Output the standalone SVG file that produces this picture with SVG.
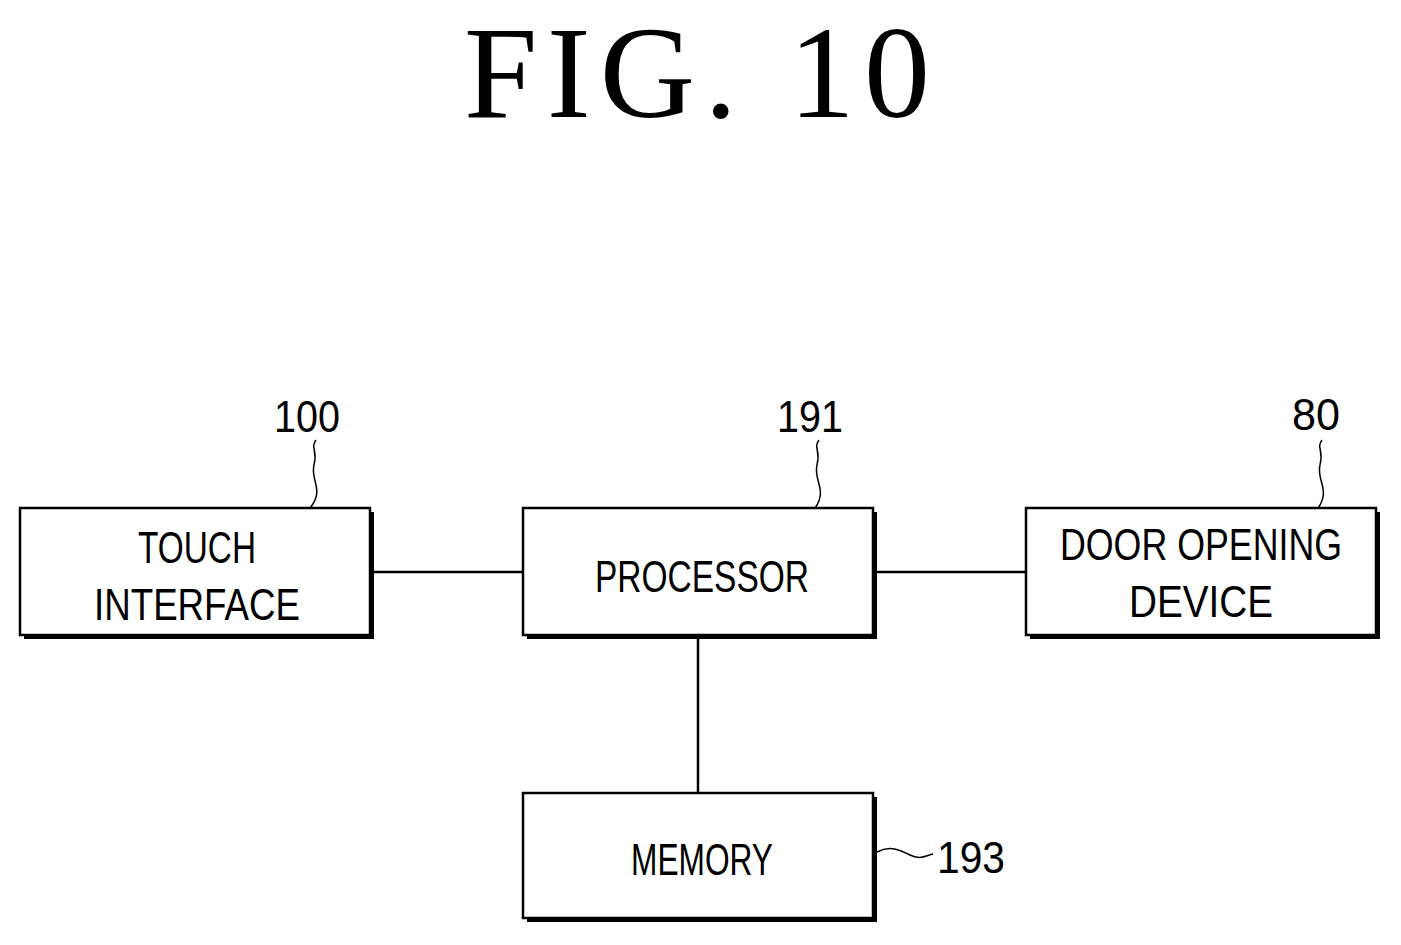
<svg xmlns="http://www.w3.org/2000/svg" width="1401" height="945" viewBox="0 0 1401 945">
<style>
.box{fill:#fff;stroke:#000;stroke-width:2.5}
.sh{fill:#000}
.t{font-family:"Liberation Sans",Arial,sans-serif;font-size:44px;fill:#000;text-anchor:middle}
.n{font-family:"Liberation Sans",Arial,sans-serif;font-size:44px;fill:#000;text-anchor:middle}
.l{fill:none;stroke:#000;stroke-width:2.5}
.w{fill:none;stroke:#000;stroke-width:1.5}
</style>
<rect width="1401" height="945" fill="#fff"/>
<text x="697" y="117" font-family="Liberation Serif,serif" font-size="132" text-anchor="middle" textLength="466" lengthAdjust="spacing">FIG.  10</text>
<g id="connectors">
<line class="l" x1="372" y1="572" x2="523" y2="572"/>
<line class="l" x1="875" y1="572" x2="1026" y2="572"/>
<line class="l" x1="698" y1="638" x2="698" y2="793"/>
</g>
<g id="touch">
<rect class="sh" x="24" y="512" width="350" height="127"/>
<rect class="box" x="20" y="508" width="350" height="127"/>
<text class="t" x="197" y="563" textLength="118" lengthAdjust="spacingAndGlyphs">TOUCH</text>
<text class="t" x="197" y="620" textLength="206" lengthAdjust="spacingAndGlyphs">INTERFACE</text>
<path class="w" d="M310 508 C325 490,310 480,314 465 C318 450,310 448,316 440"/>
<text class="n" x="307" y="432" textLength="66" lengthAdjust="spacingAndGlyphs">100</text>
</g>
<g id="processor">
<rect class="sh" x="527" y="512" width="350" height="127"/>
<rect class="box" x="523" y="508" width="350" height="127"/>
<text class="t" x="702" y="592" textLength="214" lengthAdjust="spacingAndGlyphs">PROCESSOR</text>
<path class="w" d="M815 508 C828 490,813 480,817 465 C821 450,813 448,819 440"/>
<text class="n" x="810" y="432" textLength="66" lengthAdjust="spacingAndGlyphs">191</text>
</g>
<g id="door">
<rect class="sh" x="1030" y="512" width="350" height="127"/>
<rect class="box" x="1026" y="508" width="350" height="127"/>
<text class="t" x="1201" y="560" textLength="282" lengthAdjust="spacingAndGlyphs">DOOR OPENING</text>
<text class="t" x="1201" y="617" textLength="144" lengthAdjust="spacingAndGlyphs">DEVICE</text>
<path class="w" d="M1318 508 C1331 490,1316 480,1320 465 C1324 450,1316 448,1322 440"/>
<text class="n" x="1316" y="430" textLength="48" lengthAdjust="spacingAndGlyphs">80</text>
</g>
<g id="memory">
<rect class="sh" x="527" y="797" width="350" height="125"/>
<rect class="box" x="523" y="793" width="350" height="125"/>
<text class="t" x="702" y="875" textLength="142" lengthAdjust="spacingAndGlyphs">MEMORY</text>
<path class="w" d="M877 852 C890 845,900 850,910 855 C920 860,925 856,933 854"/>
<text class="n" x="971" y="873" textLength="68" lengthAdjust="spacingAndGlyphs">193</text>
</g>
</svg>
